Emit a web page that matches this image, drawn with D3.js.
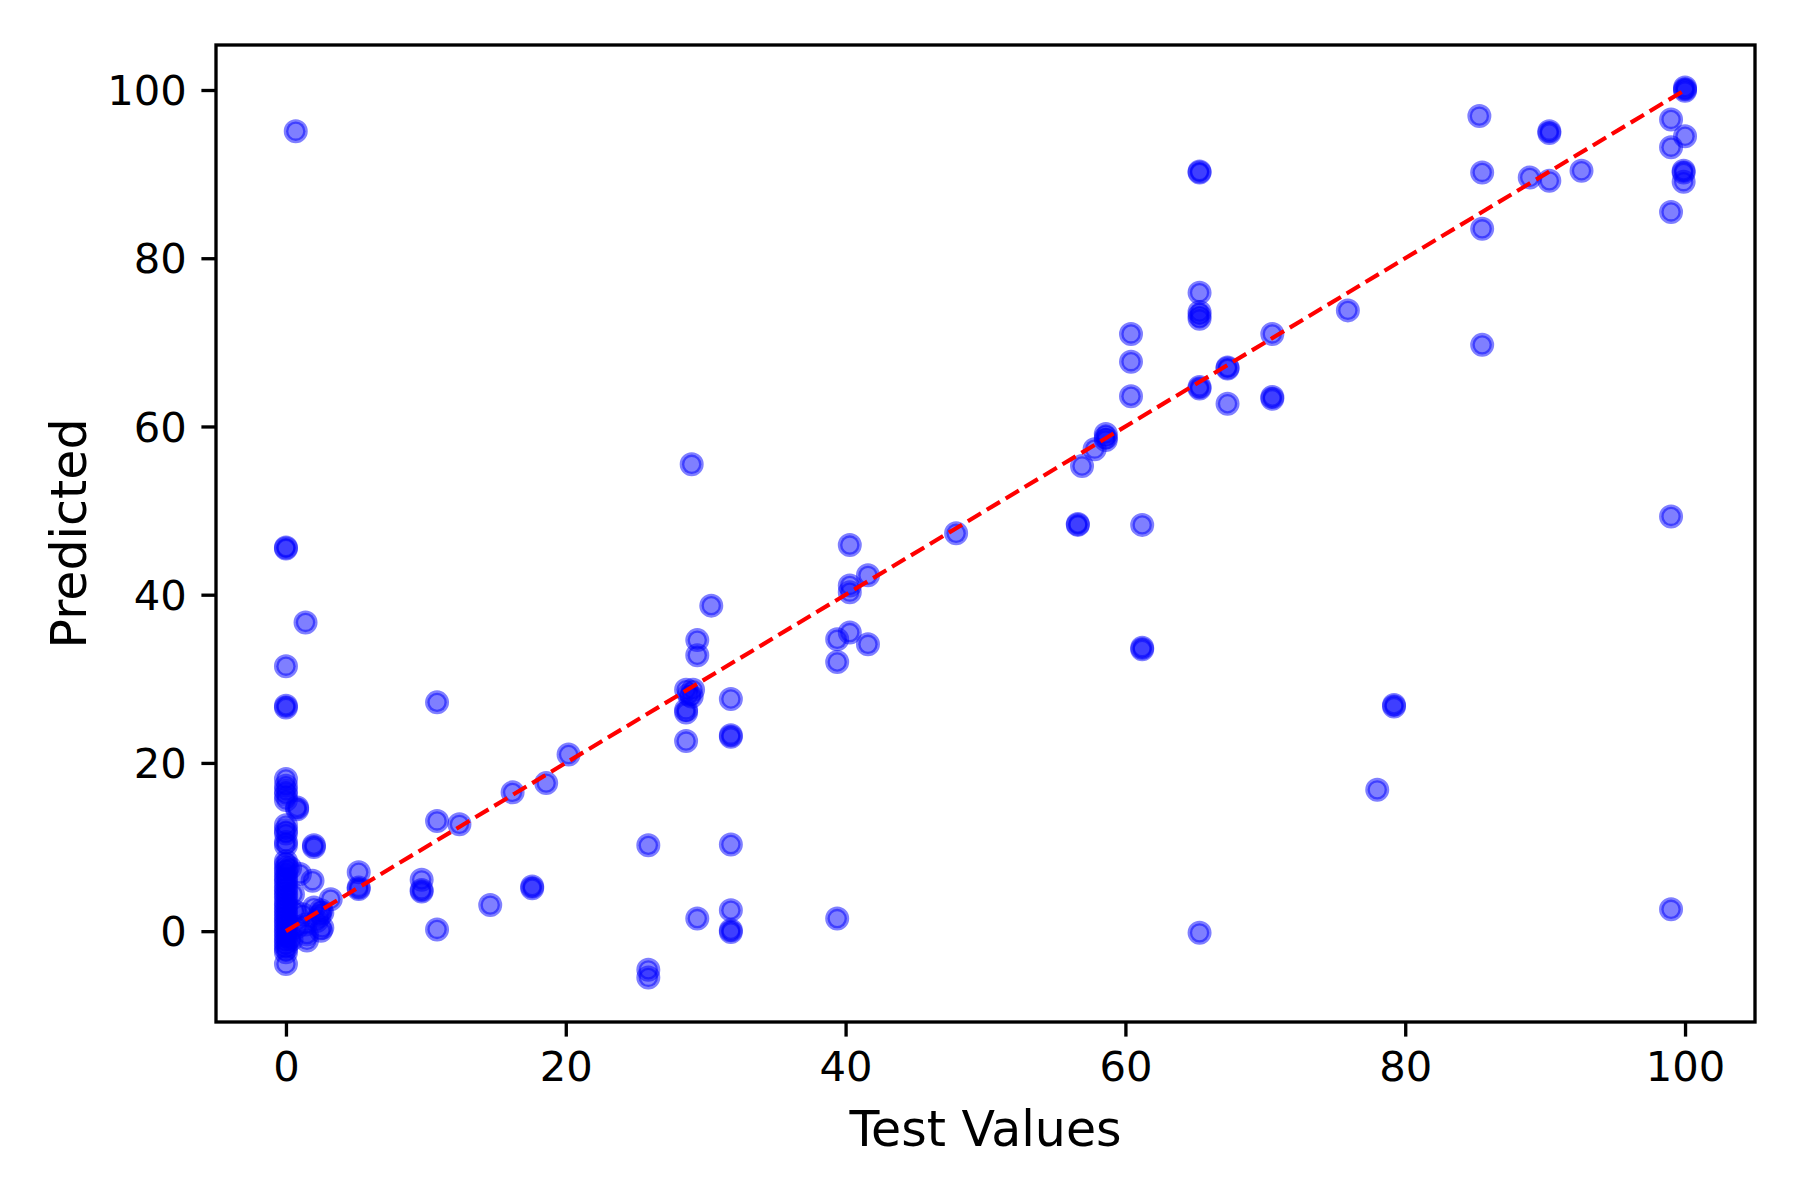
<!DOCTYPE html>
<html>
<head>
<meta charset="utf-8">
<script src="https://cdn.jsdelivr.net/npm/d3@7"></script>
<style>
  html, body { margin: 0; padding: 0; background: #fff; }
  svg { display: block; }
  text { font-family: "DejaVu Sans", sans-serif; fill: #000; }
</style>
</head>
<body>
<svg id="chart" width="1800" height="1200"></svg>
<script>
// ---- data ----
const testValues = [
  0, 0, 1.4, 0, 0, 0, 0, 0, 0, 0, 0, 0.8, 0.8, 0, 0, 0, 0, 0, 2.0, 2.0,
  0, 0, 0, 0, 0, 0, 0, 0, 0, 0, 0, 0, 0, 0, 0, 0, 0, 0, 0, 0, 0, 0, 0, 0, 0, 0, 0, 0,
  0.3, 0.5, 1.0, 0.6, 0.8, 0.4, 1.2, 1.4, 1.5, 1.5, 1.9, 2.0, 2.2, 2.4, 2.5, 2.6, 2.6, 2.5, 3.2, 0.7,
  5.2, 5.2, 5.2, 9.7, 9.7, 9.7, 10.8, 10.8, 10.8, 12.4,
  14.6, 16.2, 17.6, 17.6, 18.6, 20.2, 25.9, 25.9, 25.9,
  28.6, 29.1, 28.8, 29.0, 28.6, 28.6, 28.6, 29.0, 29.4, 29.4, 30.4, 29.4,
  31.8, 31.8, 31.8, 31.8, 31.8, 31.8, 31.8,
  39.4, 39.4, 39.4, 40.3, 40.3, 40.3, 40.3, 41.6, 41.6, 47.9,
  56.6, 56.6, 56.9, 57.8, 58.6, 58.6, 58.6, 60.4, 60.4, 60.4, 61.2, 61.2, 61.2,
  65.3, 65.3, 65.3, 65.3, 65.3, 65.3, 65.3, 65.3, 65.3,
  67.3, 67.3, 67.3, 70.5, 70.5, 70.5, 75.9, 78.0, 79.2, 79.2,
  85.3, 85.5, 85.5, 85.5, 88.9, 90.3, 90.3, 90.3, 92.6,
  99.0, 99.0, 99.0, 99.0, 99.0, 100, 99.9, 99.9, 99.9, 100, 100, 100
];
const predicted = [
  45.6, 45.5, 36.7, 31.5, 26.8, 26.6, 18.1, 17.3, 16.7, 16.2, 15.6, 14.7, 14.5, 12.6, 12.0, 11.6, 10.6, 10.2, 10.2, 10.0,
  8.3, 7.9, 7.4, 7.0, 6.5, 6.1, 5.7, 5.2, 4.8, 4.4, 4.0, 3.5, 3.1, 2.7, 2.3, 1.9, 1.5, 1.1, 0.7, 0.3, -0.1, -0.5, -0.9, -1.3, -1.7, -2.1, -2.5, -3.9,
  7.5, 4.4, 6.8, 2.4, 0.5, -1.0, 2.0, 0.8, -0.4, -1.1, 6.0, 2.8, 1.2, 1.8, 2.5, 2.2, 0.4, 0.06, 3.8, 95.1,
  7.0, 5.2, 5.0, 6.1, 4.9, 4.7, 0.2, 27.2, 13.1, 12.7,
  3.1, 16.5, 5.3, 5.1, 17.6, 21.0, 10.2, -4.6, -5.5,
  28.7, 28.7, 28.1, 27.9, 26.3, 26.0, 22.6, 55.5, 34.6, 32.8, 38.7, 1.5,
  27.6, 23.3, 23.1, 10.3, 2.5, 0.1, -0.1,
  34.7, 32.0, 1.5, 45.9, 41.1, 40.3, 35.5, 42.3, 34.1, 47.3,
  48.3, 48.4, 55.3, 57.3, 59.1, 58.7, 58.4, 71.0, 67.7, 63.6, 48.3, 33.7, 33.5,
  90.3, 90.2, 75.9, 73.6, 73.2, 72.8, 64.7, 64.5, -0.2,
  67.0, 66.9, 62.7, 71.0, 63.5, 63.3, 73.8, 16.8, 26.9, 26.7,
  96.9, 90.2, 83.5, 69.7, 89.6, 95.1, 94.9, 89.2, 90.4,
  96.5, 93.2, 85.5, 49.3, 2.6, 94.5, 90.4, 90.2, 89.1, 100.3, 100.1, 99.9
];
const xTicks = [0, 20, 40, 60, 80, 100];
const yTicks = [0, 20, 40, 60, 80, 100];
const identityLine = [0, 100];
const xLabel = "Test Values";
const yLabel = "Predicted";

// ---- layout ----
const L = 216, R = 1755, T = 45, B = 1022;
const svg = d3.select("#chart");

const x = d3.scaleLinear().domain([-5, 105]).range([L, R]);
const y = d3.scaleLinear().domain([-10.8, 105.35]).range([B, T]);

const points = testValues.map((v, i) => ({ x: v, y: predicted[i] }));

const plot = svg.append("g");
plot.append("defs").append("clipPath").attr("id", "clip")
  .append("rect").attr("x", L).attr("y", T).attr("width", R - L).attr("height", B - T);

const gPts = plot.append("g").attr("clip-path", "url(#clip)");
gPts.selectAll("circle").data(points).join("circle")
  .attr("cx", d => x(d.x))
  .attr("cy", d => y(d.y))
  .attr("r", 9.7)
  .attr("fill", "#0000ff")
  .attr("fill-opacity", 0.5)
  .attr("stroke", "#0000ff")
  .attr("stroke-opacity", 0.5)
  .attr("stroke-width", 4.6);

gPts.append("path")
  .datum(identityLine)
  .attr("d", d3.line().x(d => x(d)).y(d => y(d)))
  .attr("fill", "none")
  .attr("stroke", "#ff0000")
  .attr("stroke-width", 4.17)
  .attr("stroke-dasharray", "15.4,6.7");

// ---- axes ----
const tickLen = 14.6, tickW = 3.33;
const xAxis = d3.axisBottom(x).tickValues(xTicks).tickSize(tickLen).tickPadding(14.6).tickFormat(d3.format("d"));
const yAxis = d3.axisLeft(y).tickValues(yTicks).tickSize(tickLen).tickPadding(14.6).tickFormat(d3.format("d"));

const gx = svg.append("g").attr("transform", `translate(0,${B})`).call(xAxis);
const gy = svg.append("g").attr("transform", `translate(${L},0)`).call(yAxis);
[gx, gy].forEach(g => {
  g.select(".domain").remove();
  g.selectAll(".tick line").attr("stroke", "#000").attr("stroke-width", tickW);
  g.selectAll(".tick text").attr("font-family", "DejaVu Sans").attr("font-size", 41.7).attr("fill", "#000");
});
gx.selectAll(".tick text").attr("dy", "0.71em");
gy.selectAll(".tick text").attr("dy", "0.35em");

// frame
svg.append("rect")
  .attr("x", L).attr("y", T).attr("width", R - L).attr("height", B - T)
  .attr("fill", "none").attr("stroke", "#000").attr("stroke-width", tickW);

// axis labels
svg.append("text")
  .attr("x", (L + R) / 2).attr("y", 1146)
  .attr("text-anchor", "middle")
  .attr("font-size", 49)
  .text(xLabel);

svg.append("text")
  .attr("transform", `translate(86,${(T + B) / 2}) rotate(-90)`)
  .attr("text-anchor", "middle")
  .attr("font-size", 49)
  .text(yLabel);
</script>
</body>
</html>
